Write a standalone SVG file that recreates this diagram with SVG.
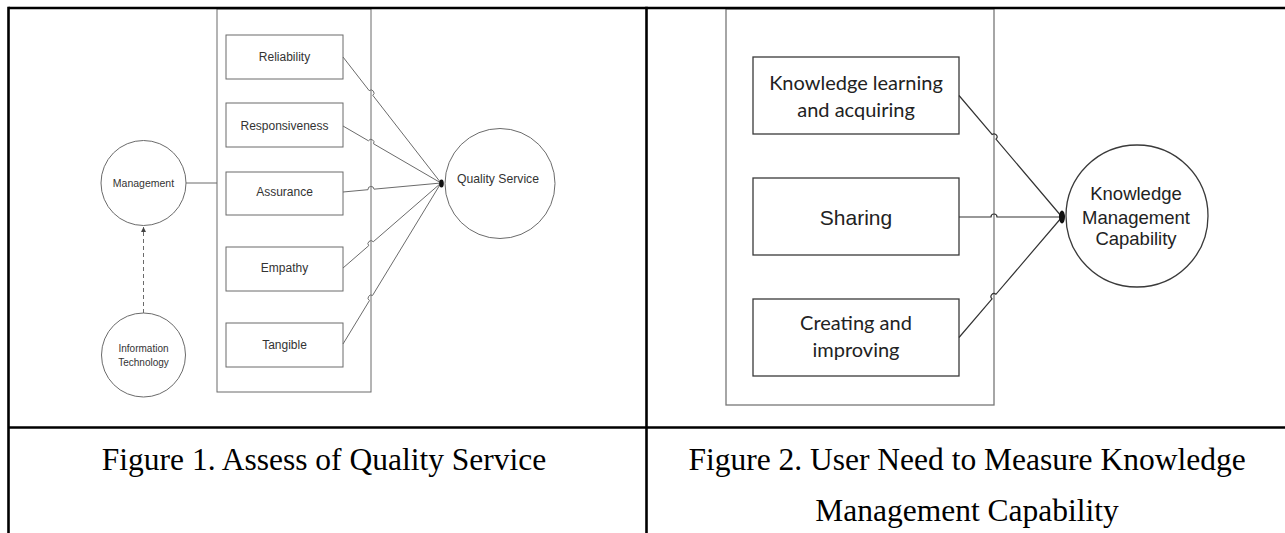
<svg xmlns="http://www.w3.org/2000/svg" width="1285" height="533" viewBox="0 0 1285 533">
  <style>
    .grid { stroke: #000; stroke-width: 2.6; fill: none; }
    .f1 { fill: #fff; stroke: #6b6b6b; stroke-width: 1; }
    .f1line { fill: none; stroke: #6b6b6b; stroke-width: 1; }
    .f1txt { font-family: "Liberation Sans", Arial, sans-serif; fill: #333; text-anchor: middle; }
    .f2 { fill: #fff; stroke: #3a3a3a; stroke-width: 1.3; }
    .f2frame { fill: none; stroke: #777; stroke-width: 1.3; }
    .f2line { fill: none; stroke: #333; stroke-width: 1.2; }
    .f2txt { font-family: "Liberation Sans", Arial, sans-serif; fill: #222; text-anchor: middle; }
    .f2cal { font-family: Lato, "Open Sans", sans-serif; fill: #222; text-anchor: middle; }
    .cap { font-family: "Liberation Serif", "Times New Roman", serif; font-size: 31.5px; fill: #000; text-anchor: middle; }
  </style>
  <defs>
    <marker id="tip" viewBox="0 0 6 6" refX="6" refY="3" markerWidth="5" markerHeight="5" orient="auto">
      <path d="M0,0 L6,3 L0,6 z" fill="#444"/>
    </marker>
  </defs>

  <rect width="1285" height="533" fill="#fff"/>

  <!-- Figure 1: Assess of Quality Service -->
  <g id="fig1-frame">
    <rect x="217" y="9" width="154" height="383" class="f1" fill="none"/>
  </g>
  <g id="management">
    <circle cx="143.5" cy="183" r="42.5" class="f1"/>
    <text x="143.5" y="186.5" class="f1txt" font-size="10.5">Management</text>
  </g>
  <g id="information-technology">
    <circle cx="143.5" cy="355" r="42" class="f1"/>
    <text x="143.5" y="351.5" class="f1txt" font-size="10">Information</text>
    <text x="143.5" y="365.5" class="f1txt" font-size="10">Technology</text>
  </g>
  <g id="reliability">
    <rect x="226" y="35" width="117" height="44" class="f1"/>
    <text x="284.5" y="61" class="f1txt" font-size="12">Reliability</text>
  </g>
  <g id="responsiveness">
    <rect x="226" y="103" width="117" height="44" class="f1"/>
    <text x="284.5" y="130" class="f1txt" font-size="12">Responsiveness</text>
  </g>
  <g id="assurance">
    <rect x="226" y="172" width="117" height="43" class="f1"/>
    <text x="284.5" y="196" class="f1txt" font-size="12">Assurance</text>
  </g>
  <g id="empathy">
    <rect x="226" y="247" width="117" height="44" class="f1"/>
    <text x="284.5" y="272" class="f1txt" font-size="12">Empathy</text>
  </g>
  <g id="tangible">
    <rect x="226" y="323" width="117" height="44" class="f1"/>
    <text x="284.5" y="349" class="f1txt" font-size="12">Tangible</text>
  </g>
  <g id="quality-service">
    <circle cx="500" cy="183.5" r="55" class="f1"/>
    <text x="498" y="183" class="f1txt" font-size="12.2">Quality Service</text>
  </g>

  <g id="fig1-connectors">
    <line x1="186" y1="183" x2="217" y2="183" class="f1line"/>
    <line x1="143.5" y1="313" x2="143.5" y2="227" class="f1line" stroke-dasharray="4 3" marker-end="url(#tip)"/>
    <path class="f1line" d="M343,57 L369.16,90.63 A3,3 0 0 1 372.84,95.37 L441,183"/>
    <path class="f1line" d="M343,126 L368.41,140.79 A3,3 0 0 1 373.59,143.81 L441,183"/>
    <path class="f1line" d="M343,192 L368.01,189.7 A3,3 0 0 1 373.99,189.16 L441,183"/>
    <path class="f1line" d="M343,268 L368.73,245.68 A3,3 0 0 1 373.27,241.74 L441,183"/>
    <path class="f1line" d="M343,344 L369.44,300.56 A3,3 0 0 1 372.56,295.44 L441,183"/>
    <ellipse cx="441.5" cy="183.5" rx="2.3" ry="4" fill="#111"/>
  </g>

  <!-- Figure 2: User Need to Measure Knowledge Management Capability -->
  <g id="fig2-frame">
    <rect x="726" y="9" width="268" height="396" class="f2frame"/>
  </g>
  <g id="knowledge-learning">
    <rect x="753" y="57" width="206" height="77" class="f2"/>
    <text x="856" y="90" class="f2cal" font-size="20">Knowledge learning</text>
    <text x="856" y="117" class="f2cal" font-size="20">and acquiring</text>
  </g>
  <g id="sharing">
    <rect x="753" y="178" width="206" height="77" class="f2"/>
    <text x="856" y="224.5" class="f2txt" font-size="21">Sharing</text>
  </g>
  <g id="creating-improving">
    <rect x="753" y="299" width="206" height="77" class="f2"/>
    <text x="856" y="330" class="f2cal" font-size="20">Creating and</text>
    <text x="856" y="357" class="f2cal" font-size="20">improving</text>
  </g>
  <g id="km-capability">
    <circle cx="1137" cy="216" r="71" class="f2"/>
    <text x="1136" y="199.5" class="f2txt" font-size="18.5">Knowledge</text>
    <text x="1136" y="223.5" class="f2txt" font-size="18.5">Management</text>
    <text x="1136" y="244.5" class="f2txt" font-size="18.5">Capability</text>
  </g>

  <g id="fig2-connectors">
    <path class="f2line" d="M959,95.5 L992.06,134.51 A3,3 0 0 1 995.94,139.09 L1062,217"/>
    <path class="f2line" d="M959,217 L991,217 A3,3 0 0 1 997,217 L1062,217"/>
    <path class="f2line" d="M959,337.5 L992.05,298.83 A3,3 0 0 1 995.95,294.27 L1062,217"/>
    <ellipse cx="1062" cy="217" rx="3" ry="6.5" fill="#111"/>
  </g>

  <!-- table rules and captions -->
  <g id="table">
    <line x1="8.5" y1="8" x2="1285" y2="8" class="grid"/>
    <line x1="8.5" y1="6.7" x2="8.5" y2="533" class="grid"/>
    <line x1="646.5" y1="6.7" x2="646.5" y2="533" class="grid"/>
    <line x1="8.5" y1="427.5" x2="1285" y2="427.5" class="grid"/>
  </g>
  <g id="captions">
    <text x="324" y="470" class="cap">Figure 1. Assess of Quality Service</text>
    <text x="967" y="470" class="cap">Figure 2. User Need to Measure Knowledge</text>
    <text x="967" y="521" class="cap">Management Capability</text>
  </g>
</svg>
